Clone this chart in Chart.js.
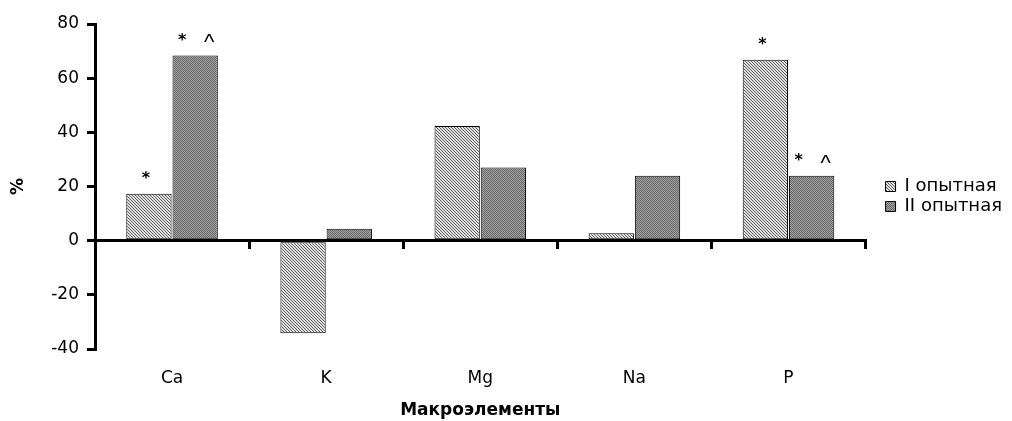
<!DOCTYPE html>
<html>
<head>
<meta charset="utf-8">
<script src="https://cdn.jsdelivr.net/npm/chart.js@4/dist/chart.umd.min.js"></script>
<style>
  html, body { margin: 0; padding: 0; background: #fff; }
  #wrap { width: 1012px; height: 421px; }
</style>
</head>
<body>
<div id="wrap"><canvas id="chart"></canvas></div>
<script>
// Macroelements, % change vs control
const categories = ['Ca', 'K', 'Mg', 'Na', 'P'];
const groupI = [17.3, -34.2, 42.3, 2.7, 66.8];
const groupII = [68.4, 4.4, 27.0, 24.0, 24.0];
const marksI = ['*', '', '', '', '*'];
const marksII = ['* ^', '', '', '', '* ^'];
const yTicks = [-40, -20, 0, 20, 40, 60, 80];

const FAMILY = '"DejaVu Sans", "Liberation Sans", Arial, sans-serif';

function makePattern(kind) {
    const c = document.createElement('canvas');
    const g = c.getContext('2d');
    if (kind === 'hatch') {
        c.width = 3; c.height = 3;
        g.fillStyle = '#e2e2e2';
        g.fillRect(0, 0, 3, 3);
        g.fillStyle = '#5e5e5e';
        for (let i = 0; i < 3; i++) g.fillRect(i, i, 1, 1);
    } else {
        c.width = 2; c.height = 2;
        g.fillStyle = '#a4a4a4';
        g.fillRect(0, 0, 2, 2);
        g.fillStyle = '#666666';
        g.fillRect(0, 0, 1, 1); g.fillRect(1, 1, 1, 1);
    }
    return g.createPattern(c, 'repeat');
}

// significance marks above the bars
const marksPlugin = {
    id: 'marks',
    afterDatasetsDraw(chart) {
        const ctx = chart.ctx;
        ctx.save();
        ctx.fillStyle = '#000';
        ctx.textAlign = 'center';
        ctx.textBaseline = 'middle';
        [marksI, marksII].forEach((marks, di) => {
            const meta = chart.getDatasetMeta(di);
            meta.data.forEach((bar, i) => {
                if (!marks[i]) return;
                const parts = marks[i].split(' ');
                const y = bar.y - 15;
                ctx.font = 'bold 16px ' + FAMILY;
                if (parts.length === 1) {
                    ctx.fillText(parts[0], bar.x - 3, y);
                } else {
                    ctx.fillText(parts[0], bar.x - 13, y);
                    ctx.font = '22px "Liberation Sans", Arial, sans-serif';
                    ctx.fillText(parts[1], bar.x + 14, y + 3);
                }
            });
        });
        ctx.restore();
    }
};

const tickFont = { family: FAMILY, size: 17 };

new Chart(document.getElementById('chart'), {
    type: 'bar',
    data: {
        labels: categories,
        datasets: [{
            label: 'I опытная',
            data: groupI,
            backgroundColor: makePattern('hatch'),
            borderColor: '#000',
            borderWidth: 1,
            borderSkipped: false
        }, {
            label: 'II опытная',
            data: groupII,
            backgroundColor: makePattern('dots'),
            borderColor: '#000',
            borderWidth: 1,
            borderSkipped: false
        }]
    },
    options: {
        responsive: true,
        maintainAspectRatio: false,
        animation: false,
        datasets: { bar: { categoryPercentage: 0.6, barPercentage: 0.98 } },
        layout: { padding: { left: 0, right: 0, top: 24, bottom: 0 } },
        plugins: {
            tooltip: { enabled: false },
            legend: {
                position: 'right',
                fullSize: false,
                title: { display: true, text: ' ', padding: 0, font: { size: 16, lineHeight: 1.25 } },
                labels: {
                    boxWidth: 10,
                    boxHeight: 10,
                    padding: 2,
                    color: '#000',
                    font: { family: FAMILY, size: 18 }
                }
            }
        },
        scales: {
            x: {
                afterFit: (s) => { s.height = 72; },
                grid: { display: false, drawTicks: false },
                border: { display: false },
                ticks: { color: '#000', font: tickFont, padding: 19 },
                title: {
                    display: true,
                    text: 'Макроэлементы',
                    color: '#000',
                    font: { family: FAMILY, size: 17, weight: 'bold' },
                    padding: { top: 0, bottom: 0 }
                }
            },
            x2: {
                type: 'category',
                axis: 'x',
                position: { y: 0 },
                offset: true,
                afterFit: (s) => { s.height = 0; },
                ticks: { display: false },
                grid: {
                    offset: true,
                    drawOnChartArea: false,
                    tickLength: 7,
                    color: '#000',
                    lineWidth: 3
                },
                border: { color: '#000', width: 3 }
            },
            y: {
                min: -40,
                max: 80,
                afterFit: (s) => { s.width = 95; },
                afterBuildTicks: (axis) => { axis.ticks = yTicks.map(v => ({ value: v })); },
                grid: {
                    drawOnChartArea: false,
                    tickLength: 8,
                    color: '#000',
                    lineWidth: 3
                },
                border: { color: '#000', width: 3 },
                ticks: { color: '#000', font: tickFont, padding: 8 },
                title: {
                    display: true,
                    text: '%',
                    color: '#000',
                    font: { family: FAMILY, size: 17, weight: 'bold' },
                    padding: { top: 8, bottom: 0 }
                }
            },
            gap: {
                type: 'linear',
                position: 'right',
                afterFit: (s) => { s.width = 18; },
                ticks: { display: false },
                grid: { display: false },
                border: { display: false }
            }
        }
    },
    plugins: [marksPlugin]
});
</script>
</body>
</html>
